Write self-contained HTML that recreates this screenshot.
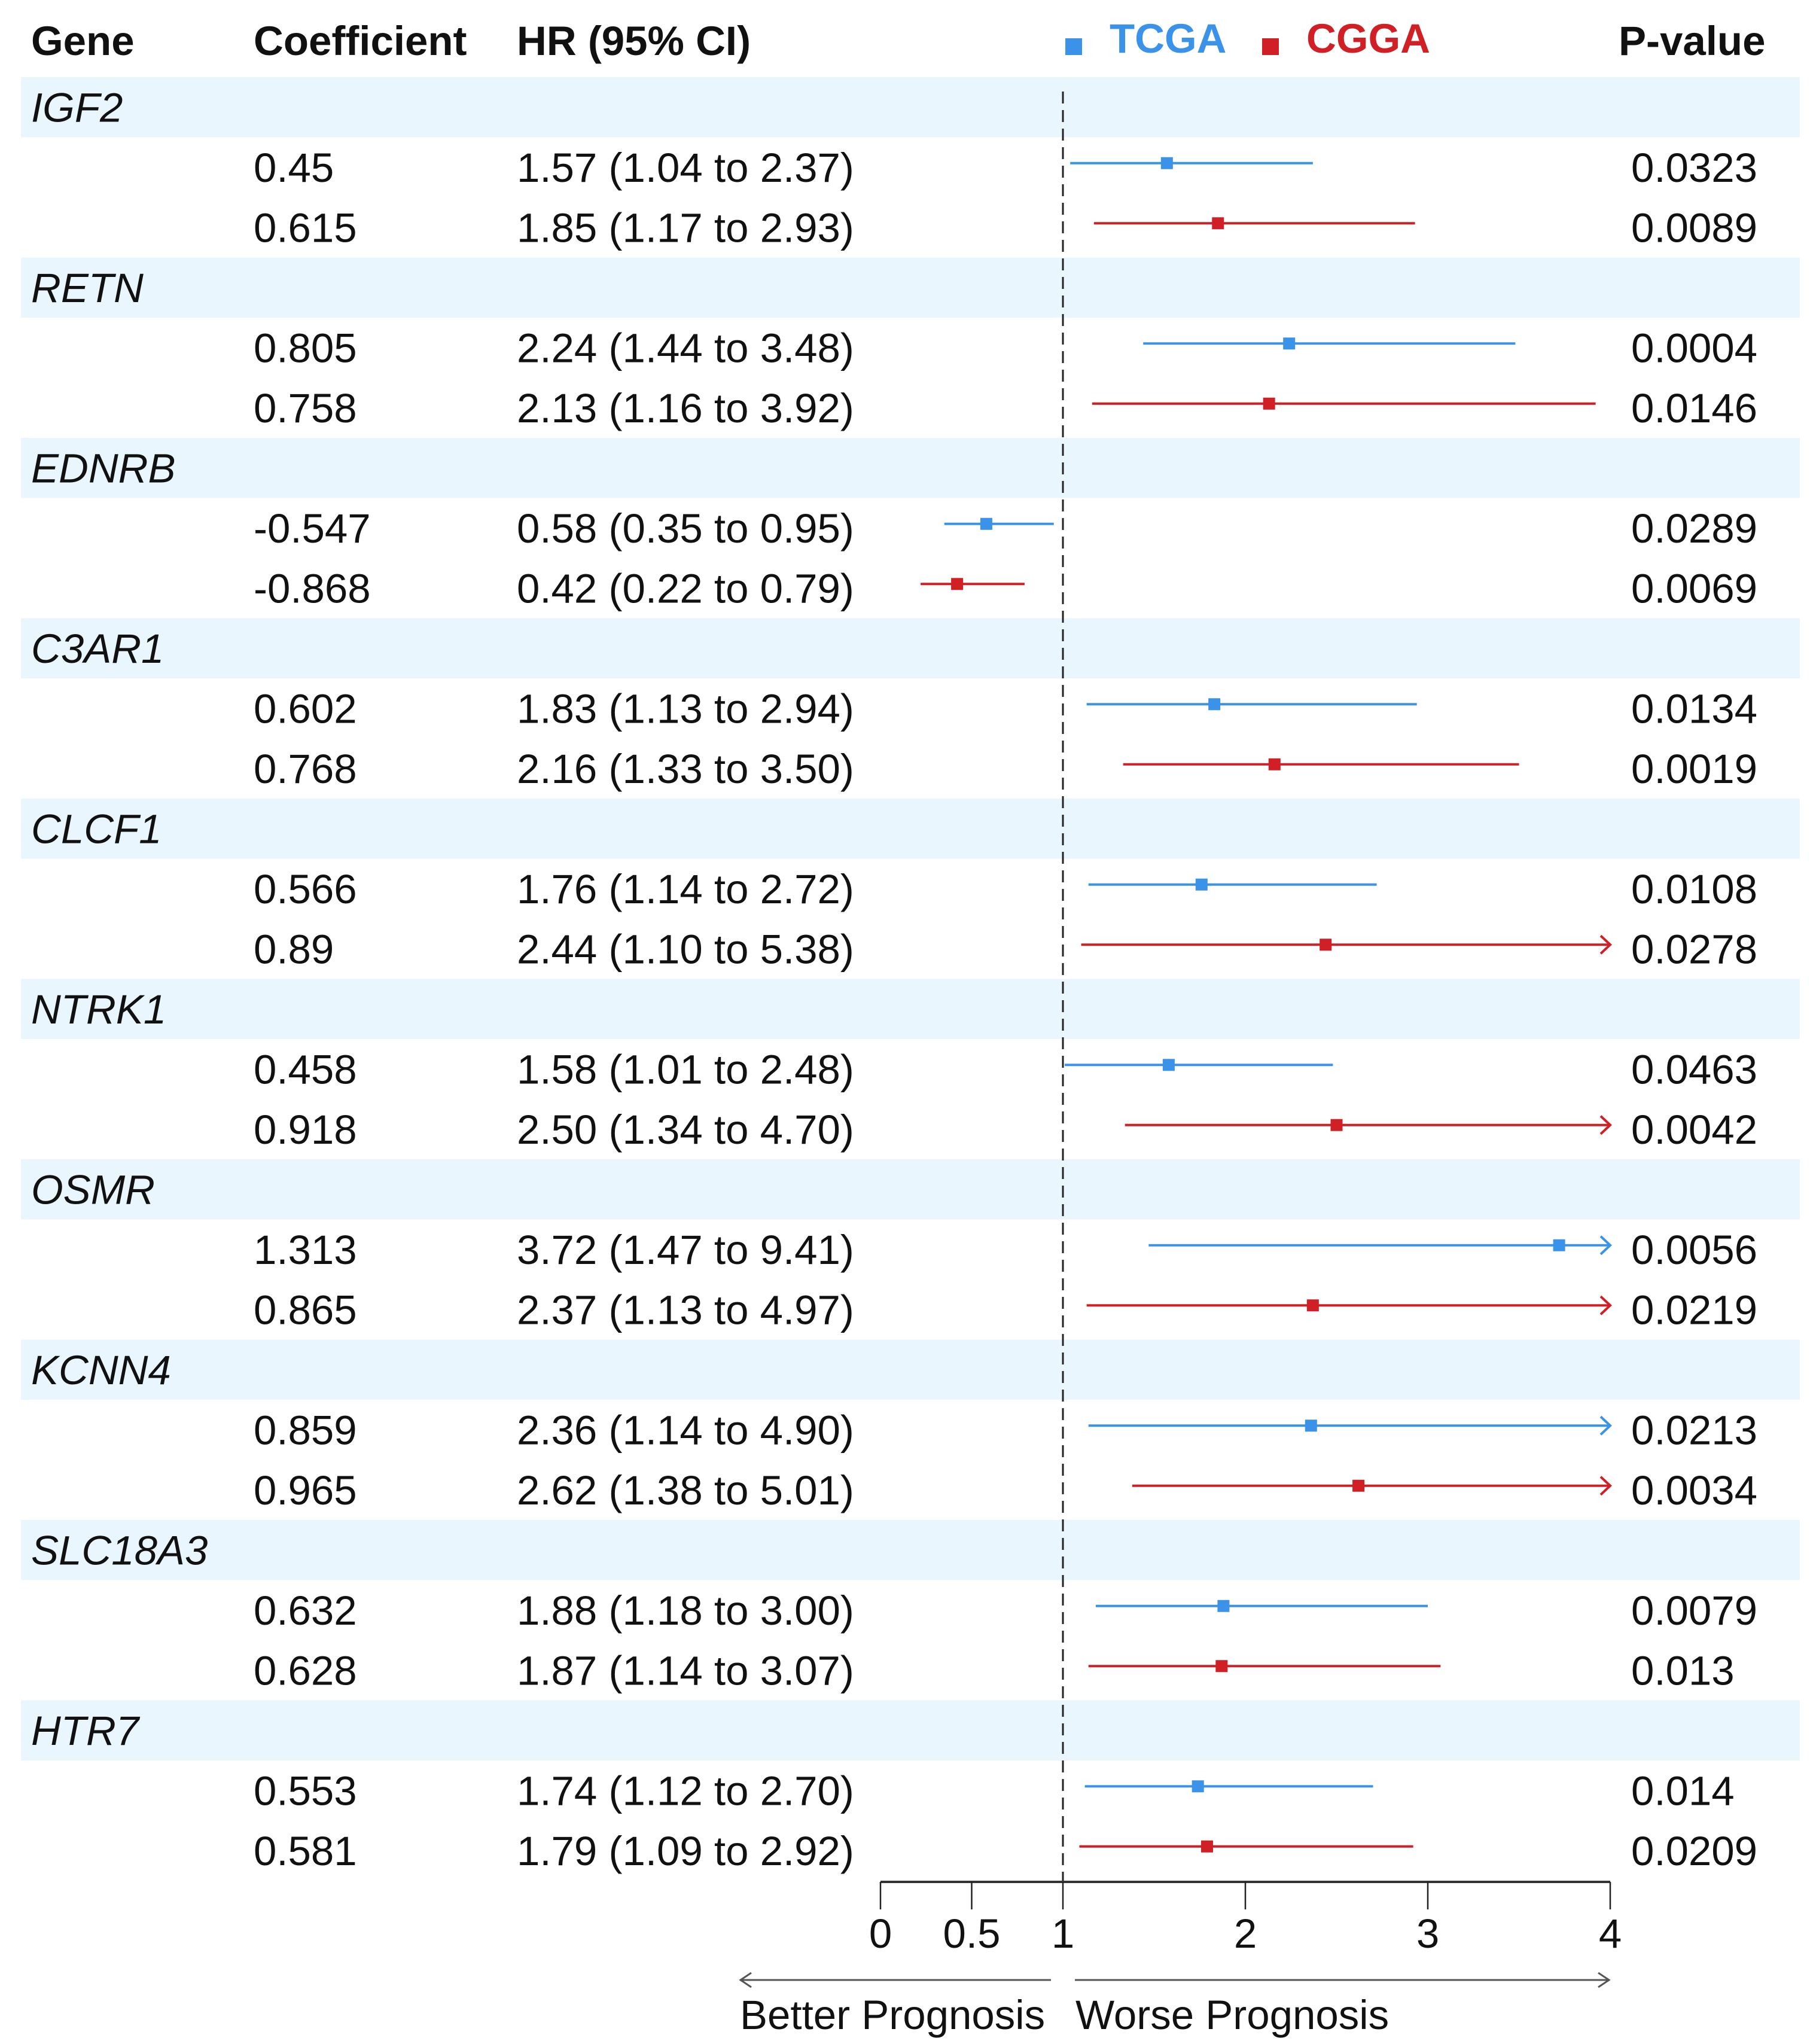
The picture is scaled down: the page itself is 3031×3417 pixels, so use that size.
<!DOCTYPE html>
<html><head><meta charset="utf-8"><style>
html,body{margin:0;padding:0;background:#fff;}
svg{display:block;}
text{font-family:"Liberation Sans",Arial,sans-serif;fill:#111;}
</style></head><body>
<svg id="chart" width="3031" height="3417" viewBox="0 0 3031 3417">
<g id="bands"></g>
<g id="header">
<text x="52" y="92" font-size="69" font-weight="bold">Gene</text>
<text x="424" y="92" font-size="69" font-weight="bold">Coefficient</text>
<text x="864" y="92" font-size="69" font-weight="bold">HR (95% CI)</text>
<rect x="1781" y="64" width="28" height="28" fill="#3a93e8"/>
<text x="1855" y="88" font-size="69" font-weight="bold" style="fill:#3a93e8">TCGA</text>
<rect x="2110" y="64" width="28" height="28" fill="#d11f26"/>
<text x="2184" y="88" font-size="69" font-weight="bold" style="fill:#d11f26">CGGA</text>
<text x="2706" y="92" font-size="69" font-weight="bold">P-value</text>
</g>
<g id="rows"></g>
<g id="marks"></g>
<g id="axis"></g>
</svg>
<script>
const genes = ["IGF2","RETN","EDNRB","C3AR1","CLCF1","NTRK1","OSMR","KCNN4","SLC18A3","HTR7"];
const tcgaCoef = ["0.45","0.805","-0.547","0.602","0.566","0.458","1.313","0.859","0.632","0.553"];
const tcgaHR = [1.57,2.24,0.58,1.83,1.76,1.58,3.72,2.36,1.88,1.74];
const tcgaLo = [1.04,1.44,0.35,1.13,1.14,1.01,1.47,1.14,1.18,1.12];
const tcgaHi = [2.37,3.48,0.95,2.94,2.72,2.48,9.41,4.90,3.00,2.70];
const tcgaP = ["0.0323","0.0004","0.0289","0.0134","0.0108","0.0463","0.0056","0.0213","0.0079","0.014"];
const cggaCoef = ["0.615","0.758","-0.868","0.768","0.89","0.918","0.865","0.965","0.628","0.581"];
const cggaHR = [1.85,2.13,0.42,2.16,2.44,2.50,2.37,2.62,1.87,1.79];
const cggaLo = [1.17,1.16,0.22,1.33,1.10,1.34,1.13,1.38,1.14,1.09];
const cggaHi = [2.93,3.92,0.79,3.50,5.38,4.70,4.97,5.01,3.07,2.92];
const cggaP = ["0.0089","0.0146","0.0069","0.0019","0.0278","0.0042","0.0219","0.0034","0.013","0.0209"];
const ticks = [0,0.5,1,2,3,4];
const tickLabels = ["0","0.5","1","2","3","4"];

const NS="http://www.w3.org/2000/svg";
const X0=1472, UNIT=305, XMAX=4;
function xs(v){return X0+Math.min(v,XMAX)*UNIT;}
const TOP=129, RH=100.5;
function rowY(i){return TOP+i*RH;}
function mk(tag,attrs,parent){const e=document.createElementNS(NS,tag);for(const k in attrs)e.setAttribute(k,attrs[k]);parent.appendChild(e);return e;}
const bands=document.getElementById('bands'),rows=document.getElementById('rows'),marks=document.getElementById('marks'),axis=document.getElementById('axis');
function fmt(v){return v.toFixed(2);}
const colors={tcga:"#3a93e8",cgga:"#d11f26"};
function drawSeries(idx,r,coef,hr,lo,hi,p,col,name){
  const y=rowY(r)+RH/2;
  let t=mk('text',{x:424,y:y+24,'font-size':69},rows);t.textContent=coef;
  
  
  t=mk('text',{x:864,y:y+24,'font-size':69},rows);t.textContent=fmt(hr)+" ("+fmt(lo)+" to "+fmt(hi)+")";
  
  
  t=mk('text',{x:2727,y:y+24,'font-size':69},rows);t.textContent=p;
  
  
  const my=y-7;
  const l=mk('line',{x1:xs(lo),x2:xs(hi),y1:my,y2:my,stroke:col,'stroke-width':4},marks);
  
  
  if(hi>XMAX){
    const ax=xs(XMAX);
    const a=mk('polyline',{points:(ax-16)+","+(my-15)+" "+ax+","+my+" "+(ax-16)+","+(my+15),fill:'none',stroke:col,'stroke-width':4},marks);
    
    
  }
  const s=mk('rect',{x:xs(hr)-10,y:my-10,width:20,height:20,fill:col},marks);
  
  
}
genes.forEach((g,i)=>{
  const r=i*3;
  const b=mk('rect',{x:35,y:rowY(r),width:2974,height:RH,fill:'#eaf6fe'},bands);
  
  
  const t=mk('text',{x:52,y:rowY(r)+RH/2+24,'font-size':69,'font-style':'italic'},rows);
  t.textContent=g;
  
  
  drawSeries(i,r+1,tcgaCoef[i],tcgaHR[i],tcgaLo[i],tcgaHi[i],tcgaP[i],colors.tcga,'tcga');
  drawSeries(i,r+2,cggaCoef[i],cggaHR[i],cggaLo[i],cggaHi[i],cggaP[i],colors.cgga,'cgga');
});
const bottom=rowY(genes.length*3);
const ref=mk('line',{x1:xs(1),x2:xs(1),y1:153,y2:bottom,stroke:'#222','stroke-width':3,'stroke-dasharray':'20 11'},marks);


const ay=3146;
const al=mk('line',{x1:xs(0),x2:xs(4),y1:ay,y2:ay,stroke:'#333','stroke-width':4},axis);


ticks.forEach((v,i)=>{
  const tk=mk('line',{x1:xs(v),x2:xs(v),y1:ay,y2:ay+46,stroke:'#222','stroke-width':2.5},axis);
  
  
  const tl=mk('text',{x:xs(v),y:3256,'font-size':69,'text-anchor':'middle'},axis);
  tl.textContent=tickLabels[i];
  
  
});
const ly=3310;
let e=mk('line',{x1:1238,x2:1757,y1:ly,y2:ly,stroke:'#555','stroke-width':3},axis);


e=mk('polyline',{points:"1256,"+(ly-12)+" 1238,"+ly+" 1256,"+(ly+12),fill:'none',stroke:'#555','stroke-width':3},axis);


e=mk('line',{x1:1797,x2:2690,y1:ly,y2:ly,stroke:'#555','stroke-width':3},axis);


e=mk('polyline',{points:"2672,"+(ly-12)+" 2690,"+ly+" 2672,"+(ly+12),fill:'none',stroke:'#555','stroke-width':3},axis);


e=mk('text',{x:1237,y:3392,'font-size':69},axis);e.textContent="Better Prognosis";


e=mk('text',{x:1798,y:3392,'font-size':69},axis);e.textContent="Worse Prognosis";


</script>
</body></html>
